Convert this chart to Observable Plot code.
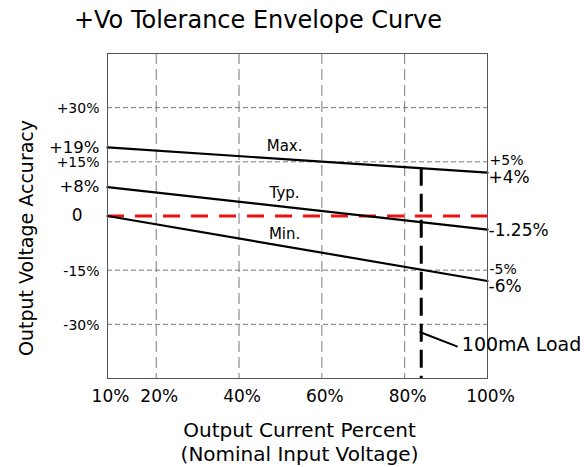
<!DOCTYPE html>
<html><head><meta charset="utf-8">
<script src="https://cdn.jsdelivr.net/npm/d3@7"></script>
<script src="https://cdn.jsdelivr.net/npm/@observablehq/plot@0.6"></script>
<style>
body{margin:0;background:#fff;font-family:"DejaVu Sans",sans-serif;}
#title{width:516px;height:40px;line-height:40px;text-align:center;font-size:24px;color:#000;}
</style></head><body>
<div id="title"></div>
<div id="chart"></div>
<script>
const titleText = "+Vo Tolerance Envelope Curve";
const xLabel = "Output Current Percent\n(Nominal Input Voltage)";
const yLabel = "Output Voltage Accuracy";
const curveNames = ["Max.", "Typ.", "Min."];
const xStart = 10, xEnd = 100;
const startValues = [19, 8, 0];        // % at 10% load (left axis)
const endValues = [4, -1.25, -6];      // % at 100% load (right axis)
const rightAxisFactor = 3;             // right axis: ±5% sits on the ±15% gridline
const curveLabelX = [51, 51, 51];
const curveLabelY = [19.2, 6.2, -4.9];
const xTicks = [10, 20, 40, 60, 80, 100];
const xGrid = [20, 40, 60, 80];
const yGrid = [30, 15, -15, -30];
const leftMinorTicks = [30, 15, -15, -30];
const leftMinorLabels = ["+30%", "+15%", "-15%", "-30%"];
const leftMajorTicks = [19, 8, 0];
const leftMajorLabels = ["+19%", "+8%", "0"];
const rightMinorTicks = [5, -5];
const rightMinorLabels = ["+5%", "-5%"];
const rightMajorLabels = ["+4%", "-1.25%", "-6%"];
const yMin = -45, yMax = 45;
const loadX = 84, loadTop = 13.2;
const leaderX = [83.8, 92.6];
const leaderY = [-32.2, -36.1];
const loadLabel = "100mA Load";
const loadLabelX = 93.8, loadLabelY = -35.8;

document.getElementById("title").textContent = titleText;

const curves = [];
curveNames.forEach((n, i) => {
  curves.push({name: n, x: xStart, y: startValues[i]});
  curves.push({name: n, x: xEnd, y: endValues[i] * rightAxisFactor});
});
const leader = leaderX.map((x, i) => ({x, y: leaderY[i]}));

const majorNonZero = leftMajorTicks.filter(d => d !== 0);
const majorZero = leftMajorTicks.filter(d => d === 0);
const fmtMajor = d => leftMajorLabels[leftMajorTicks.indexOf(d)];
const fmtMinor = d => leftMinorLabels[leftMinorTicks.indexOf(d)];
const rightDy = [5, 1, 6];

const chart = Plot.plot({
  width: 585, height: 427,
  marginTop: 13, marginBottom: 89, marginLeft: 107, marginRight: 98,
  style: {fontFamily: "DejaVu Sans, sans-serif", background: "#fff", color: "#000"},
  x: {type: "linear", domain: [10, 20, 100], range: [107, 155.7, 487]},
  y: {domain: [yMin, yMax]},
  marks: [
    Plot.ruleX(xGrid, {stroke: "#777", strokeWidth: 1, strokeDasharray: "11,5"}),
    Plot.ruleY(yGrid, {stroke: "#777", strokeWidth: 1, strokeDasharray: "5,3"}),
    Plot.ruleY([0], {stroke: "#f01010", strokeWidth: 3, strokeDasharray: "17,11"}),
    Plot.line(curves, {x: "x", y: "y", z: "name", stroke: "#000", strokeWidth: 2.2}),
    Plot.ruleX([loadX], {y1: loadTop, y2: yMin, stroke: "#000", strokeWidth: 3, strokeDasharray: "18,8"}),
    Plot.line(leader, {x: "x", y: "y", stroke: "#000", strokeWidth: 2}),
    Plot.frame({stroke: "#555", strokeWidth: 1}),
    Plot.axisX(xTicks, {tickSize: 0, tickPadding: 11, fontSize: 17, dx: 3, tickFormat: d => d + "%", label: null}),
    Plot.axisY(leftMinorTicks, {anchor: "left", tickSize: 0, tickPadding: 8, fontSize: 14, dy: 1, tickFormat: fmtMinor, label: null}),
    Plot.axisY(majorNonZero, {anchor: "left", tickSize: 0, tickPadding: 8, fontSize: 16.5, dy: 0, tickFormat: fmtMajor, label: null}),
    Plot.axisY(majorZero, {anchor: "left", tickSize: 0, tickPadding: 25, fontSize: 17, tickFormat: fmtMajor, label: null}),
    Plot.text(rightMinorTicks, {y: d => d * rightAxisFactor, frameAnchor: "right", text: d => rightMinorLabels[rightMinorTicks.indexOf(d)], textAnchor: "start", dx: 2, dy: -1, fontSize: 14}),
    ...endValues.map((v, i) => Plot.text([v], {y: d => d * rightAxisFactor, frameAnchor: "right", text: () => rightMajorLabels[i], textAnchor: "start", dx: 1, dy: rightDy[i], fontSize: 17})),
    Plot.text(curveNames, {x: (d, i) => curveLabelX[i], y: (d, i) => curveLabelY[i], text: d => d, fontSize: 15}),
    Plot.text([loadLabel], {x: loadLabelX, y: loadLabelY, text: d => d, textAnchor: "start", fontSize: 19}),
    Plot.text([yLabel], {frameAnchor: "left", text: d => d, textAnchor: "middle", rotate: -90, dx: -81, dy: 22, fontSize: 19}),
    Plot.text([xLabel], {frameAnchor: "bottom", text: d => d, textAnchor: "middle", dx: 2, dy: 63, lineAnchor: "middle", lineHeight: 1.16, fontSize: 20})
  ]
});
document.getElementById("chart").appendChild(chart);
</script>
</body></html>
